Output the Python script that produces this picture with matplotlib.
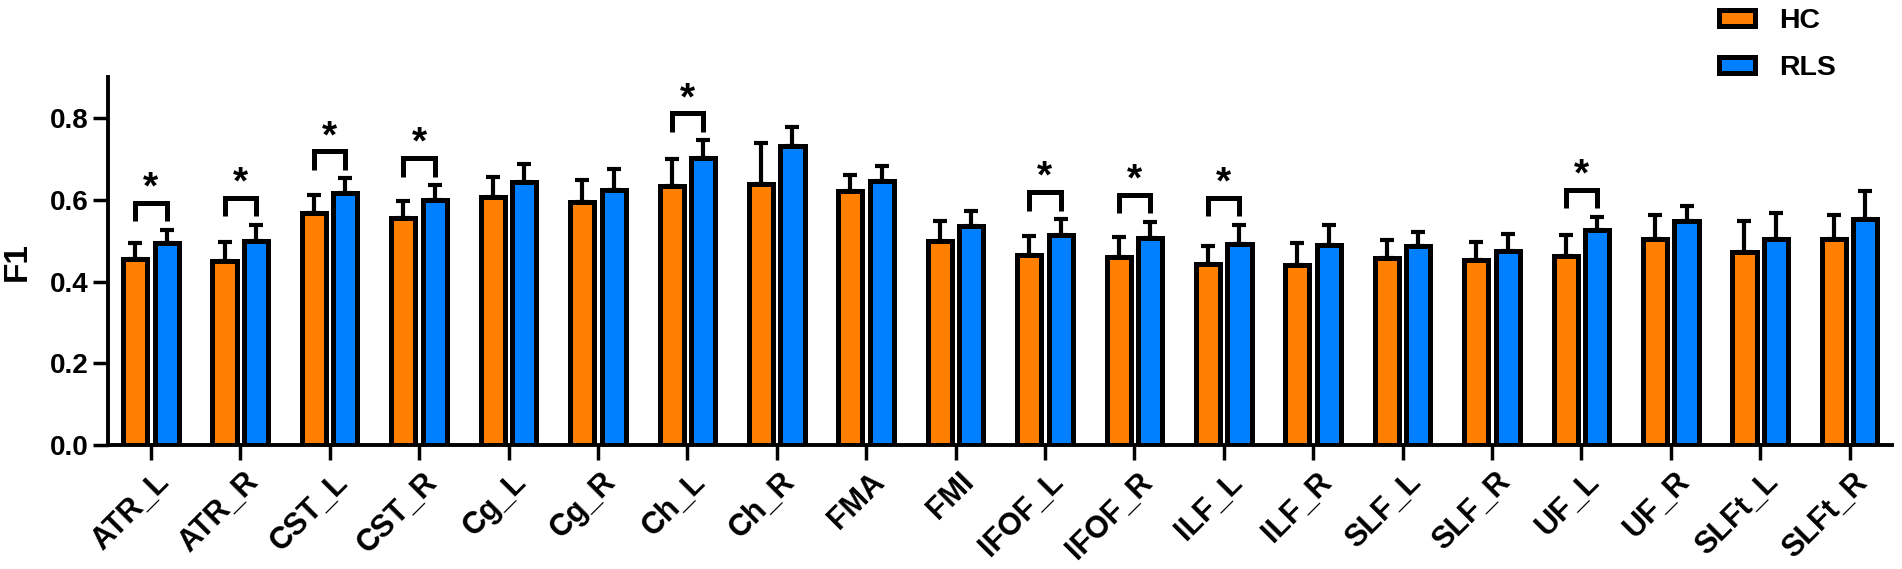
import matplotlib
matplotlib.use("Agg")
import matplotlib.pyplot as plt
import matplotlib.transforms as mtransforms
from matplotlib.patches import Patch
import numpy as np

categories = ["ATR_L", "ATR_R", "CST_L", "CST_R", "Cg_L", "Cg_R", "Ch_L", "Ch_R",
              "FMA", "FMI", "IFOF_L", "IFOF_R", "ILF_L", "ILF_R", "SLF_L", "SLF_R",
              "UF_L", "UF_R", "SLFt_L", "SLFt_R"]
hc_mean = [0.455, 0.450, 0.567, 0.556, 0.608, 0.595, 0.634, 0.640, 0.622, 0.499,
           0.464, 0.461, 0.442, 0.441, 0.457, 0.453, 0.462, 0.505, 0.473, 0.504]
hc_err = [0.040, 0.047, 0.044, 0.042, 0.048, 0.054, 0.067, 0.099, 0.038, 0.049,
          0.047, 0.048, 0.046, 0.054, 0.044, 0.043, 0.051, 0.057, 0.076, 0.058]
rls_mean = [0.494, 0.500, 0.617, 0.601, 0.643, 0.624, 0.702, 0.731, 0.646, 0.535,
            0.513, 0.506, 0.493, 0.490, 0.486, 0.474, 0.526, 0.548, 0.504, 0.553]
rls_err = [0.033, 0.039, 0.036, 0.035, 0.044, 0.051, 0.044, 0.048, 0.037, 0.038,
           0.040, 0.041, 0.046, 0.048, 0.035, 0.042, 0.033, 0.038, 0.064, 0.069]
significant = ["ATR_L", "ATR_R", "CST_L", "CST_R", "Ch_L", "IFOF_L", "IFOF_R", "ILF_L", "UF_L"]
yticks = [0.0, 0.2, 0.4, 0.6, 0.8]

HC_COLOR = "#FF8000"
RLS_COLOR = "#0080FF"

plt.rcParams['font.family'] = ['Liberation Sans', 'DejaVu Sans']
plt.rcParams['font.weight'] = 'bold'

fig = plt.figure(figsize=(19.02, 5.69), dpi=100)
ax = fig.add_axes([0.057, 0.218, 0.938, 0.646])

x = np.arange(len(categories))
off = 0.176
bw = 0.27
elw = 3.6

ax.errorbar(x - off, hc_mean, yerr=[np.zeros(len(x)), hc_err], fmt='none',
            ecolor='black', elinewidth=3.0, capsize=4.7, capthick=3.0, zorder=1)
ax.errorbar(x + off, rls_mean, yerr=[np.zeros(len(x)), rls_err], fmt='none',
            ecolor='black', elinewidth=3.0, capsize=4.7, capthick=3.0, zorder=1)
ax.bar(x - off, hc_mean, width=bw, color=HC_COLOR, edgecolor='black', linewidth=elw, zorder=2)
ax.bar(x + off, rls_mean, width=bw, color=RLS_COLOR, edgecolor='black', linewidth=elw, zorder=2)

for name in significant:
    i = categories.index(name)
    top = rls_mean[i] + rls_err[i] + 0.066
    ax.plot([i - off, i - off, i + off, i + off], [top - 0.045, top, top, top - 0.045],
            color='black', lw=3.6, solid_joinstyle='miter', solid_capstyle='butt', zorder=3)
    ax.text(i, top + 0.035, "*", ha='center', va='center', fontsize=28,
            fontweight='bold', color='black')

ax.set_xlim(-0.475, len(categories) - 1 + 0.48)
ax.set_ylim(0, 0.9)
ax.set_yticks(yticks)
ax.set_yticklabels([f"{v:.1f}" for v in yticks], fontsize=20, fontweight='bold')
ax.set_xticks(x)
ax.set_xticklabels([])
label_tr = ax.get_xaxis_transform() + mtransforms.ScaledTranslation(0.03, -0.22, fig.dpi_scale_trans)
for i, name in enumerate(categories):
    ax.text(i, 0, name, transform=label_tr, rotation=45, ha='right', va='top',
            rotation_mode='anchor', fontsize=22, fontweight='bold', clip_on=False)
ax.tick_params(axis='both', width=2.5, length=11, pad=3)
for s in ['top', 'right']:
    ax.spines[s].set_visible(False)
for s in ['left', 'bottom']:
    ax.spines[s].set_linewidth(2.8)

ax.set_ylabel("F1", fontsize=24, fontweight='bold')
ax.yaxis.set_label_coords(-0.0426, 0.498)

handles = [Patch(facecolor=HC_COLOR, edgecolor='black', linewidth=3.6, label='HC'),
           Patch(facecolor=RLS_COLOR, edgecolor='black', linewidth=3.6, label='RLS')]
leg = fig.legend(handles=handles, loc='upper left', bbox_to_anchor=(1716 / 1902, 0.991),
                 frameon=False, fontsize=20.5, handlelength=1.26, handleheight=0.5,
                 labelspacing=0.75, handletextpad=0.85, borderpad=0.1, borderaxespad=0)
for t in leg.get_texts():
    t.set_fontweight('bold')

fig.savefig("out.png", dpi=100)
